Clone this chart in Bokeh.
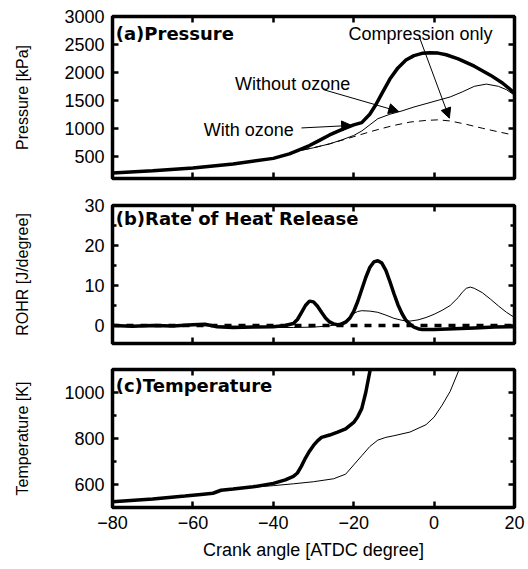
from bokeh.plotting import figure
from bokeh.layouts import column
from bokeh.models import Range1d, LinearAxis, FixedTicker, Label, Arrow, NormalHead
from bokeh.embed import file_html
from bokeh.resources import INLINE

# ---------------- data ----------------
# (a) Pressure [kPa]
a_x_with = [-80, -70, -60, -50, -40, -36, -34, -31, -29, -26, -23, -20, -18, -16, -14.5, -13, -11, -9, -7, -5, -3, -1, 1, 3, 6, 10, 14, 17, 20]
a_with = [200, 240, 290, 360, 460, 540, 600, 690, 765, 880, 975, 1060, 1100, 1250, 1420, 1620, 1880, 2080, 2220, 2300, 2340, 2350, 2345, 2315, 2240, 2110, 1950, 1810, 1630]
a_x_without = [-80, -70, -60, -50, -40, -36, -34, -30, -26, -23, -20, -18, -16, -14, -11, -8, -5, -2, 1, 4, 7, 10, 13, 16, 18, 20]
a_without = [200, 240, 290, 360, 460, 540, 590, 650, 720, 790, 870, 950, 1060, 1170, 1250, 1310, 1380, 1440, 1500, 1560, 1650, 1750, 1790, 1750, 1690, 1590]
a_x_comp = [-80, -70, -60, -50, -40, -36, -34, -30, -26, -22, -19, -16, -13, -10, -6, -2, 1, 4, 8, 12, 16, 20]
a_comp = [200, 240, 290, 360, 460, 540, 590, 650, 720, 805, 870, 935, 995, 1050, 1110, 1140, 1150, 1130, 1070, 1000, 935, 875]

# (b) Rate of heat release [J/degree]
b_x_with = [-80, -75, -70, -65, -60, -57, -54, -50, -45, -40, -37, -35, -34, -33, -32, -31, -30, -29, -28, -27,
            -26, -25, -24, -23, -22, -21, -20, -19, -18, -17, -16, -15, -14, -13, -12, -11, -10, -9, -8, -7,
            -6, -5, -4, -3, -2, 0, 5, 10, 15, 20]
b_with = [0.0, -0.2, 0.0, -0.1, 0.2, 0.3, -0.3, -0.5, -0.4, -0.3, 0.0, 0.5, 1.5, 3.2, 5.0, 6.1, 5.9, 4.8, 3.3, 1.9,
          0.9, 0.4, 0.2, 0.3, 0.8, 1.8, 3.5, 6.0, 9.0, 12.0, 14.5, 15.9, 16.2, 15.6, 13.8, 11.0, 8.0, 5.2, 3.0, 1.3,
          0.3, -0.4, -0.8, -1.0, -1.0, -1.0, -0.8, -0.6, -0.4, -0.3]
b_x_without = [-80, -60, -45, -40, -35, -30, -26, -24, -22, -21, -20, -19, -18, -16, -14, -12, -10, -8, -6, -4,
               -2, 0, 2, 4, 6, 7, 8, 9, 10, 12, 14, 16, 18, 20]
b_without = [0.0, 0.0, -0.3, -0.5, -0.5, -0.4, -0.1, 0.3, 1.2, 2.2, 3.0, 3.5, 3.7, 3.6, 3.3, 2.6, 1.8, 1.3, 1.1, 1.4,
             2.0, 2.8, 3.8, 5.0, 7.0, 8.3, 9.3, 9.6, 9.3, 8.2, 6.6, 4.9, 3.3, 2.0]
b_x_comp = [-80, 20]
b_comp = [0, 0]

# (c) Temperature [K]
c_x_with = [-80, -70, -62, -58, -55, -53, -50, -45, -40, -37, -35, -34, -33, -32, -31, -30, -29, -28, -26, -24, -22, -20, -19, -18, -17, -16, -15]
c_with = [525, 537, 550, 557, 562, 575, 580, 590, 605, 620, 635, 650, 680, 715, 745, 770, 790, 805, 815, 828, 842, 870, 895, 930, 1000, 1090, 1160]
c_x_without = [-80, -70, -62, -58, -55, -53, -50, -45, -40, -35, -30, -25, -22, -20, -18, -16, -14, -12, -10, -6, -2, 0, 2, 4, 6, 8]
c_without = [525, 537, 550, 557, 562, 575, 580, 588, 595, 603, 612, 625, 645, 685, 725, 765, 793, 805, 812, 828, 860, 893, 945, 1005, 1090, 1170]

# tick values
x_ticks = [-80, -60, -40, -20, 0, 20]
a_yticks = [500, 1000, 1500, 2000, 2500, 3000]
a_yminor = []
b_yticks = [0, 10, 20, 30]
b_yminor = [-5, 5, 15, 25]
c_yticks = [600, 800, 1000]
c_yminor = [500, 700, 900, 1100]

FONT = "Liberation Sans"
TITLE_FONT = "DejaVu Sans"


def style_axis(ax, major, minor, labels=True):
    ax.axis_line_color = None
    ax.major_tick_out = 0
    ax.minor_tick_out = 0
    ax.major_tick_line_width = 2.5
    ax.minor_tick_line_width = 2.5
    ax.major_tick_line_color = "black"
    ax.minor_tick_line_color = "black"
    ax.major_label_text_font = FONT
    ax.major_label_text_color = "black"
    ax.major_label_text_font_size = "18px"
    ax.axis_label_text_font = FONT
    ax.axis_label_text_font_style = "normal"
    ax.axis_label_text_color = "black"
    ax.ticker = FixedTicker(ticks=list(major), minor_ticks=list(minor))
    ax.major_tick_in = 6
    ax.minor_tick_in = 4
    if labels:
        ax.major_label_standoff = 8
    else:
        # mirrored tick marks: labels suppressed
        ax.major_label_text_font_size = "0px"
        ax.major_label_standoff = 0


def make_panel(yr, height, top, bottom, ymajor, yminor, ylabel, ystandoff, show_x):
    p = figure(width=528, height=height, output_backend="svg", toolbar_location=None,
               x_range=Range1d(-80, 20), y_range=Range1d(*yr),
               x_axis_location=None, y_axis_location=None,
               min_border_left=112, min_border_right=14,
               min_border_top=top, min_border_bottom=bottom)
    p.xgrid.visible = False
    p.ygrid.visible = False
    p.outline_line_color = "black"
    p.outline_line_width = 3.5
    p.background_fill_color = "white"
    p.border_fill_color = "white"

    left = LinearAxis(axis_label=ylabel)
    style_axis(left, ymajor, yminor)
    left.axis_label_text_font_size = "16px"
    left.axis_label_standoff = ystandoff
    p.add_layout(left, "left")

    right = LinearAxis()
    style_axis(right, ymajor, yminor, labels=False)
    p.add_layout(right, "right")

    if show_x:
        bottom_ax = LinearAxis(axis_label="Crank angle [ATDC degree]")
        style_axis(bottom_ax, x_ticks, [])
        bottom_ax.axis_label_text_font_size = "18px"
        bottom_ax.axis_label_standoff = 8
    else:
        bottom_ax = LinearAxis()
        style_axis(bottom_ax, x_ticks, [], labels=False)
    p.add_layout(bottom_ax, "below")

    top_ax = LinearAxis()
    style_axis(top_ax, x_ticks, [], labels=False)
    p.add_layout(top_ax, "above")
    return p


def title(p, text, y):
    p.add_layout(Label(x=-79.2, y=y, text=text, text_font=TITLE_FONT, text_font_style="bold",
                       text_font_size="18px", text_baseline="top", text_color="black"))


def note(p, text, x, y):
    p.add_layout(Label(x=x, y=y, text=text, text_font=FONT, text_font_size="18px",
                       text_baseline="alphabetic", text_color="black"))


def arrow(p, xs, ys, xe, ye):
    p.add_layout(Arrow(x_start=xs, y_start=ys, x_end=xe, y_end=ye, line_width=1, line_color="black",
                       end=NormalHead(size=10, fill_color="black", line_color="black", line_width=1)))


# (a)
pa = make_panel((100, 3000), 188, 16, 10, a_yticks, a_yminor, "Pressure [kPa]", 30, False)
pa.line(a_x_comp, a_comp, line_color="black", line_width=1, line_dash="7 5")
pa.line(a_x_without, a_without, line_color="black", line_width=1)
pa.line(a_x_with, a_with, line_color="black", line_width=3.5)
title(pa, "(a)Pressure", 2890)
note(pa, "Compression only", -21.3, 2694)
note(pa, "Without ozone", -49.5, 1794)
note(pa, "With ozone", -57.3, 970)
arrow(pa, -3.8, 2658, 3.8, 1180)
arrow(pa, -27.5, 1690, -8.8, 1300)
arrow(pa, -33.0, 1005, -20.5, 1050)

# (b)
pb = make_panel((-4.5, 30), 165, 17, 10, b_yticks, b_yminor, "ROHR [J/degree]", 50, False)
pb.line(b_x_without, b_without, line_color="black", line_width=1)
pb.line(b_x_with, b_with, line_color="black", line_width=3.5)
pb.line(b_x_comp, b_comp, line_color="black", line_width=3.5, line_dash="7 7")
title(pb, "(b)Rate of Heat Release", 29.5)

# (c)
pc = make_panel((500, 1100), 216, 16, 62, c_yticks, c_yminor, "Temperature [K]", 30, True)
pc.line(c_x_without, c_without, line_color="black", line_width=1)
pc.line(c_x_with, c_with, line_color="black", line_width=3.5)
title(pc, "(c)Temperature", 1078)

layout = column(pa, pb, pc, spacing=0)
open("out.html", "w").write(file_html(layout, INLINE))
